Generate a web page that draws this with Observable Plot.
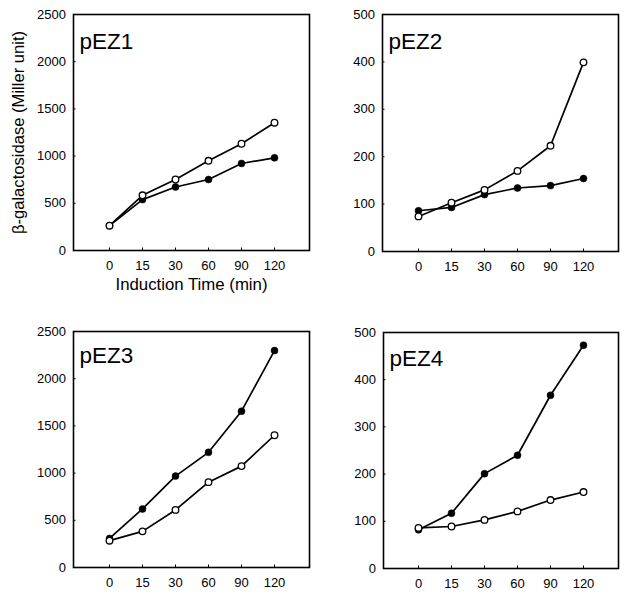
<!DOCTYPE html>
<html>
<head>
<meta charset="utf-8">
<script src="https://cdn.jsdelivr.net/npm/d3@7"></script>
<script src="https://cdn.jsdelivr.net/npm/@observablehq/plot@0.6"></script>
<style>
  html, body { margin: 0; padding: 0; background: #fff; }
  #wrap { position: relative; width: 628px; height: 597px; overflow: hidden; background: #fff;
          font-family: "Liberation Sans", Arial, Helvetica, sans-serif; }
  #wrap > div { position: absolute; }
  svg { display: block; }
</style>
</head>
<body>
<div id="wrap"></div>
<script>
// ---- data ----
const times = ["0", "15", "30", "60", "90", "120"];
const panelNames = ["pEZ1", "pEZ2", "pEZ3", "pEZ4"];
const yTicksLarge = [0, 500, 1000, 1500, 2000, 2500];
const yTicksSmall = [0, 100, 200, 300, 400, 500];

const pEZ1Open   = [263, 585, 752, 950, 1131, 1354];
const pEZ1Filled = [263, 539, 673, 752, 922, 982];
const pEZ2Open   = [74, 103, 130, 170, 223, 399];
const pEZ2Filled = [86, 93, 120, 134, 139, 154];
const pEZ3Open   = [284, 383, 610, 904, 1074, 1401];
const pEZ3Filled = [308, 620, 968, 1220, 1656, 2298];
const pEZ4Open   = [86, 89, 103, 121, 145, 162];
const pEZ4Filled = [82, 117, 201, 240, 367, 473];

const yTitle = "β-galactosidase (Miller unit)";
const xTitle = "Induction Time (min)";

// ---- drawing ----
const FONT = '"Liberation Sans", Arial, Helvetica, sans-serif';

function toRows(values) {
  return values.map((v, i) => ({t: times[i], v}));
}

function makePanel(name, open, filled, ticks, L) {
  const openRows = toRows(open);
  const filledRows = toRows(filled);
  const marks = [
    Plot.frame({stroke: "black", strokeWidth: 1.6}),
    Plot.axisY(ticks, {tickSize: -2.5, tickPadding: 10, label: null, fontSize: 13,
                       tickFormat: d => String(d)}),
    Plot.axisX(times, {tickSize: -2.5, tickPadding: 13, label: null, fontSize: 13}),
    Plot.line(filledRows, {x: "t", y: "v", stroke: "black", strokeWidth: 1.7}),
    Plot.line(openRows, {x: "t", y: "v", stroke: "black", strokeWidth: 1.7}),
    Plot.dot(filledRows, {x: "t", y: "v", r: 3.5, fill: "black", stroke: "black", strokeWidth: 0.5}),
    Plot.dot(openRows, {x: "t", y: "v", r: 3.3, fill: "white", stroke: "black", strokeWidth: 1.3}),
    Plot.text([name], {text: d => d, frameAnchor: "top-left", dx: 6, dy: L.labelDy,
                       lineAnchor: "top", textAnchor: "start", fontSize: 22.5, fill: "black"})
  ];
  if (L.titles) {
    marks.push(Plot.text([xTitle], {text: d => d, frameAnchor: "bottom", dy: 39.5,
                                    lineAnchor: "bottom", textAnchor: "middle", fontSize: 16.8, fill: "black"}));
    marks.push(Plot.text([yTitle], {text: d => d, frameAnchor: "left", dx: -50, rotate: -90,
                                    lineAnchor: "bottom", textAnchor: "middle", fontSize: 16.6, fill: "black"}));
  }
  const chart = Plot.plot({
    width: L.width,
    height: L.height,
    marginLeft: L.mL,
    marginRight: L.mR,
    marginTop: L.mT,
    marginBottom: L.mB,
    style: {fontFamily: FONT, fontSize: "13px", color: "black", background: "white", overflow: "visible"},
    x: {type: "point", domain: times, padding: 1},
    y: {domain: [ticks[0], ticks[ticks.length - 1]]},
    marks
  });
  const holder = document.createElement("div");
  holder.style.left = L.left + "px";
  holder.style.top = L.top + "px";
  holder.appendChild(chart);
  document.getElementById("wrap").appendChild(holder);
}

makePanel(panelNames[0], pEZ1Open, pEZ1Filled, yTicksLarge,
  {left: 0, top: 0, width: 314, height: 300, mL: 73, mR: 5, mT: 14, mB: 50, labelDy: 19, titles: true});
makePanel(panelNames[1], pEZ2Open, pEZ2Filled, yTicksSmall,
  {left: 314, top: 0, width: 314, height: 300, mL: 68, mR: 10, mT: 14, mB: 49, labelDy: 19});
makePanel(panelNames[2], pEZ3Open, pEZ3Filled, yTicksLarge,
  {left: 0, top: 300, width: 314, height: 297, mL: 73, mR: 5, mT: 31, mB: 30, labelDy: 15.5});
makePanel(panelNames[3], pEZ4Open, pEZ4Filled, yTicksSmall,
  {left: 314, top: 300, width: 314, height: 297, mL: 69, mR: 10, mT: 32, mB: 29, labelDy: 17.5});
</script>
</body>
</html>
